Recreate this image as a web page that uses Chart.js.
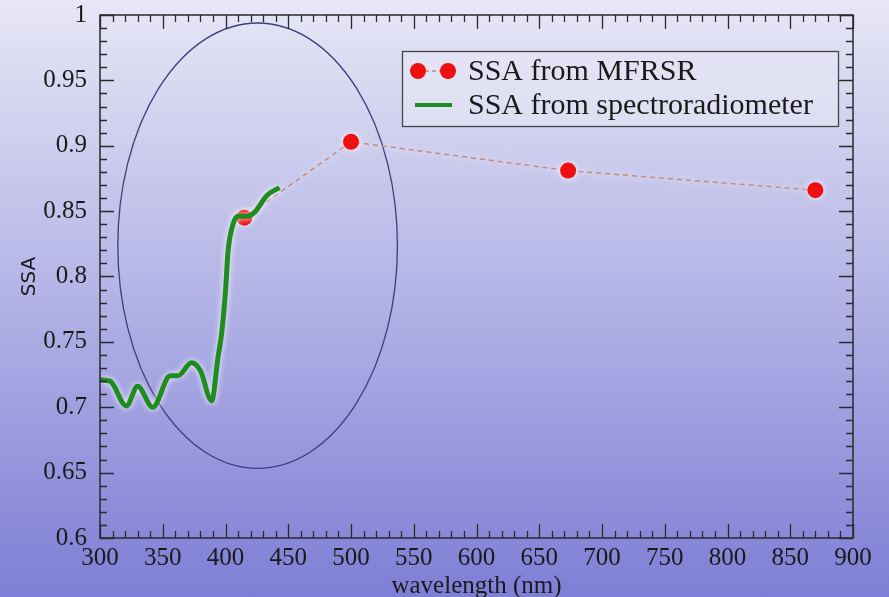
<!DOCTYPE html>
<html>
<head>
<meta charset="utf-8">
<script src="https://cdn.jsdelivr.net/npm/chart.js@4.4.0/dist/chart.umd.min.js"></script>
<style>
  html, body { margin: 0; padding: 0; }
  body {
    width: 889px; height: 597px; overflow: hidden;
    background: linear-gradient(to bottom, #e7e7f6 0%, #7e7ed6 100%);
  }
  canvas { display: block; }
</style>
</head>
<body>
<canvas id="ssa" width="889" height="597"></canvas>
<script>
// SSA retrieved from the MFRSR channels
const mfrsrWavelength = [415, 500, 673, 870];
const mfrsrSSA = [0.845, 0.903, 0.881, 0.866];

// SSA from the spectroradiometer (UV / blue part)
const specWavelength = [300, 308, 321, 330, 342, 356, 362, 373, 380, 389, 394, 397, 400, 402, 406, 410, 417, 423, 433, 443];
const specSSA = [0.721, 0.720, 0.701, 0.716, 0.700, 0.724, 0.724, 0.734, 0.728, 0.705, 0.738, 0.757, 0.789, 0.819, 0.840, 0.846, 0.846, 0.849, 0.862, 0.868];

const seriesLabels = ["SSA from MFRSR", "SSA from spectroradiometer"];

// circled region, centre and semi-axes in data units
const regionCenter = [425.6, 0.8236];
const regionRadius = [111.4, 0.1703];

// axis ranges: [min, max, major step, minor step]
const xRange = [300, 900, 50, 10];
const yRange = [0.6, 1, 0.05, 0.01];

const serif = "'Liberation Serif', 'Times New Roman', serif";

function toPoints(xs, ys) {
  return xs.map((x, i) => ({ x: x, y: ys[i] }));
}

// white halo round the curves
const glow = {
  id: "glow",
  beforeDatasetDraw(chart) {
    const c = chart.ctx;
    c.save();
    c.shadowColor = "rgba(255, 255, 255, 0.9)";
    c.shadowBlur = 6;
  },
  afterDatasetDraw(chart) {
    chart.ctx.restore();
  },
};

function drawTicks(ctx, scale, area, range, horizontal) {
  const n = Math.round((range[1] - range[0]) / range[3]);
  const every = Math.round(range[2] / range[3]);
  for (let i = 0; i <= n; i++) {
    const v = range[0] + i * range[3];
    const len = i % every === 0 ? 14 : 7;
    const p = Math.round(scale.getPixelForValue(v)) + 0.5;
    ctx.beginPath();
    if (horizontal) {
      ctx.moveTo(p, area.bottom); ctx.lineTo(p, area.bottom - len);
      ctx.moveTo(p, area.top); ctx.lineTo(p, area.top + len);
    } else {
      ctx.moveTo(area.left, p); ctx.lineTo(area.left + len, p);
      ctx.moveTo(area.right, p); ctx.lineTo(area.right - len, p);
    }
    ctx.stroke();
  }
}

const decorations = {
  id: "decorations",
  beforeDatasetsDraw(chart) {
    const { ctx, chartArea: a, scales: { x, y } } = chart;
    const cx = x.getPixelForValue(regionCenter[0]);
    const cy = y.getPixelForValue(regionCenter[1]);
    const rx = x.getPixelForValue(regionCenter[0] + regionRadius[0]) - cx;
    const ry = cy - y.getPixelForValue(regionCenter[1] + regionRadius[1]);
    ctx.save();
    ctx.beginPath();
    ctx.rect(a.left, a.top, a.right - a.left, a.bottom - a.top);
    ctx.clip();
    ctx.beginPath();
    ctx.ellipse(cx, cy, rx, ry, 0, 0, Math.PI * 2);
    ctx.strokeStyle = "#3d3d7e";
    ctx.lineWidth = 1.3;
    ctx.stroke();
    ctx.restore();
  },
  afterDatasetsDraw(chart) {
    const { ctx, chartArea: a, scales: { x, y } } = chart;
    ctx.save();
    ctx.strokeStyle = "#2a2a2a";
    ctx.lineWidth = 1.5;
    ctx.strokeRect(a.left, a.top, a.right - a.left, a.bottom - a.top);
    ctx.lineWidth = 1.3;
    drawTicks(ctx, x, a, xRange, true);
    drawTicks(ctx, y, a, yRange, false);

    // legend box
    const lx = a.right - 451, ly = a.top + 36;
    ctx.fillStyle = "rgba(232, 232, 246, 0.6)";
    ctx.fillRect(lx, ly, 436, 75);
    ctx.strokeStyle = "#444";
    ctx.lineWidth = 1.3;
    ctx.strokeRect(lx + 0.5, ly + 0.5, 436, 75);

    const r1 = ly + 20, r2 = ly + 54;
    ctx.strokeStyle = "#c98a7c";
    ctx.setLineDash([4, 3]);
    ctx.lineWidth = 1.5;
    ctx.beginPath(); ctx.moveTo(lx + 16, r1); ctx.lineTo(lx + 46, r1); ctx.stroke();
    ctx.setLineDash([]);
    ctx.fillStyle = "#ee1010";
    [lx + 16, lx + 46].forEach(px => {
      ctx.beginPath(); ctx.arc(px, r1, 8, 0, Math.PI * 2); ctx.fill();
    });
    ctx.strokeStyle = "#1e8c1e";
    ctx.lineWidth = 4;
    ctx.beginPath(); ctx.moveTo(lx + 13, r2); ctx.lineTo(lx + 50, r2); ctx.stroke();

    ctx.fillStyle = "#1a1a1a";
    ctx.font = "30px " + serif;
    ctx.textBaseline = "middle";
    ctx.fillText(seriesLabels[0], lx + 66, r1 + 1);
    ctx.fillText(seriesLabels[1], lx + 66, r2 + 1);
    ctx.restore();
  },
};

new Chart(document.getElementById("ssa"), {
  type: "line",
  data: {
    datasets: [
      {
        label: seriesLabels[1],
        data: toPoints(specWavelength, specSSA),
        borderColor: "#1e8c1e",
        borderWidth: 5,
        pointRadius: 0,
        cubicInterpolationMode: "monotone",
        fill: false,
      },
      {
        label: seriesLabels[0],
        data: toPoints(mfrsrWavelength, mfrsrSSA),
        borderColor: "#c98a7c",
        borderWidth: 1.5,
        borderDash: [5, 4],
        pointRadius: 8,
        pointBackgroundColor: "#ee1010",
        pointBorderWidth: 0,
        fill: false,
      },
    ],
  },
  options: {
    responsive: false,
    animation: false,
    events: [],
    layout: { padding: { left: 0, top: 8, right: 36, bottom: 0 } },
    plugins: {
      legend: { display: false },
      tooltip: { enabled: false },
    },
    scales: {
      x: {
        type: "linear",
        min: xRange[0],
        max: xRange[1],
        grid: { display: false },
        border: { display: false },
        afterFit(scale) { scale.height = 59; },
        ticks: {
          stepSize: xRange[2],
          autoSkip: false,
          maxRotation: 0,
          padding: 0,
          color: "#1a1a1a",
          font: { family: serif, size: 25, lineHeight: 1.0 },
          callback: v => String(Math.round(v)),
        },
        title: {
          display: true,
          text: "wavelength (nm)",
          color: "#1a1a1a",
          font: { family: serif, size: 25, lineHeight: 1.0 },
          padding: { top: 0, bottom: -2 },
        },
      },
      y: {
        min: yRange[0],
        max: yRange[1],
        grid: { display: false },
        border: { display: false },
        afterFit(scale) { scale.width = 100; },
        ticks: {
          stepSize: yRange[2],
          autoSkip: false,
          padding: 5,
          color: "#1a1a1a",
          font: { family: serif, size: 25, lineHeight: 0.8 },
          callback: v => String(+v.toFixed(2)),
        },
        title: {
          display: true,
          text: "SSA",
          color: "#1a1a1a",
          font: { family: "'DejaVu Sans', sans-serif", size: 20 },
          padding: { top: 18, bottom: 0 },
        },
      },
    },
  },
  plugins: [glow, decorations],
});
</script>
</body>
</html>
